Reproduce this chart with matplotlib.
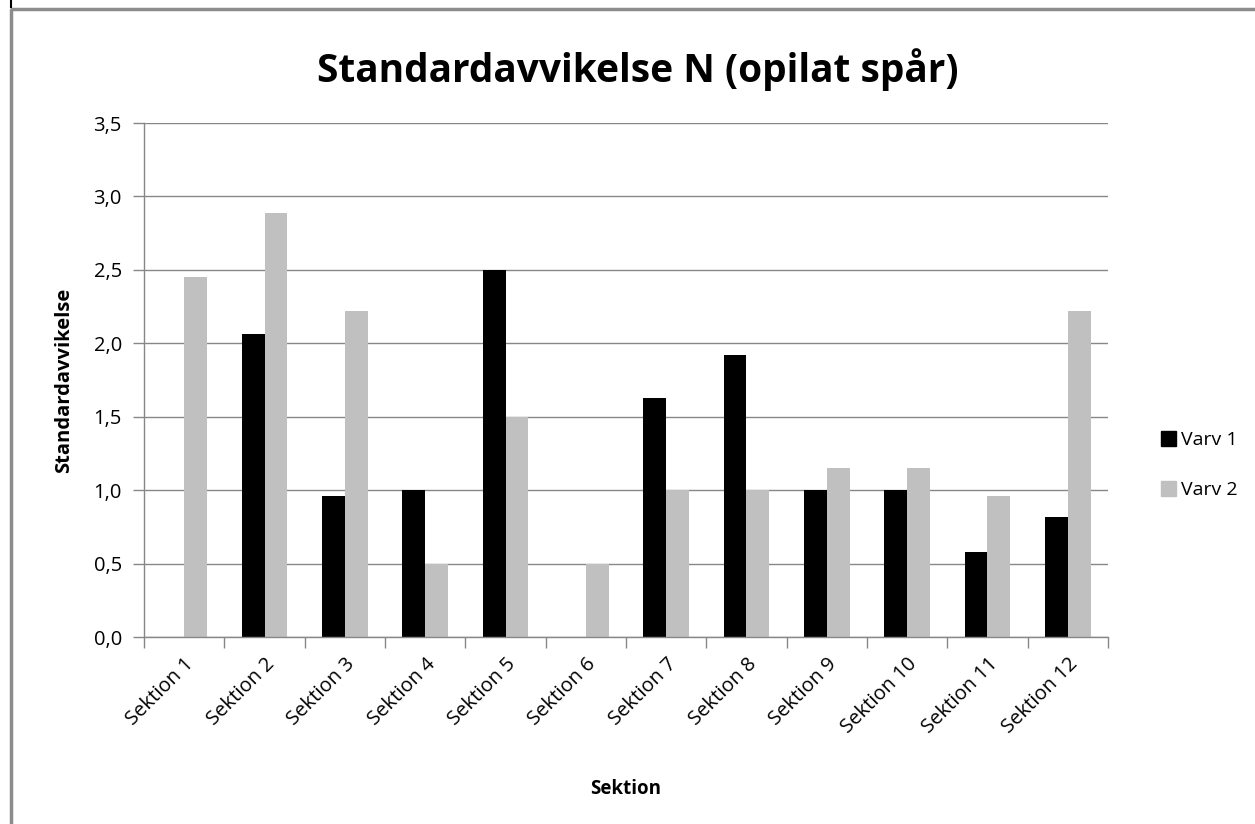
import numpy as np
import matplotlib.pyplot as plt
from matplotlib.lines import Line2D
from matplotlib.patches import Patch

sektioner = [f"Sektion {i}" for i in range(1, 13)]
varv1 = [0.0, 2.06, 0.96, 1.0, 2.5, 0.0, 1.63, 1.92, 1.0, 1.0, 0.58, 0.82]
varv2 = [2.45, 2.89, 2.22, 0.5, 1.5, 0.5, 1.0, 1.0, 1.15, 1.15, 0.96, 2.22]
yticks = [0.0, 0.5, 1.0, 1.5, 2.0, 2.5, 3.0, 3.5]

plt.rcParams["font.family"] = ["Open Sans", "DejaVu Sans"]
GRID = "#878787"

W, H = 1255, 824
fig = plt.figure(figsize=(W / 100, H / 100), dpi=100)
ax = fig.add_axes([144 / W, 1 - 637 / H, (1108 - 144) / W, (637 - 123) / H])

x = np.arange(len(sektioner))
bw = 1 / 3.5
ax.bar(x - bw / 2, varv1, bw, color="black", label="Varv 1")
ax.bar(x + bw / 2, varv2, bw, color="#c0c0c0", label="Varv 2")

ax.set_xlim(-0.5, len(sektioner) - 0.5)
ax.set_ylim(0, 3.5)
ax.set_yticks(yticks)
ax.set_yticklabels([f"{v:.1f}".replace(".", ",") for v in yticks], fontsize=14.5)
ax.yaxis.grid(True, color=GRID, lw=1)
ax.set_axisbelow(True)

ax.set_xticks(x)
ax.set_xticklabels(sektioner, rotation=45, ha="right", rotation_mode="anchor", fontsize=14.5)
ax.set_xticks(np.arange(-0.5, len(sektioner)), minor=True)
ax.tick_params(axis="x", which="major", length=0, pad=12)
ax.tick_params(axis="x", which="minor", length=8, color=GRID, width=1)
ax.tick_params(axis="y", length=8, color=GRID, width=1, pad=8)

for s in ["top", "right"]:
    ax.spines[s].set_visible(False)
for s in ["left", "bottom"]:
    ax.spines[s].set_color(GRID)
    ax.spines[s].set_linewidth(1)

ax.set_ylabel("Standardavvikelse", fontsize=14.5, fontweight="bold", labelpad=14)
ax.set_xlabel("Sektion", fontsize=13.5, fontweight="bold", labelpad=30)
fig.text(638 / W, 1 - 70 / H, "Standardavvikelse N (opilat spår)",
         ha="center", va="center", fontsize=28, fontweight="bold")

handles = [Patch(color="black"), Patch(color="#c0c0c0")]
fig.legend(handles, ["Varv 1", "Varv 2"], loc="center left",
           bbox_to_anchor=(1143 / W, 1 - 465 / H), frameon=False, fontsize=14,
           handlelength=0.8, handleheight=0.8, handletextpad=0.25, labelspacing=1.65)

# outer frame lines (left and top)
fig.add_artist(Line2D([11.5 / W, 11.5 / W], [0, 1 - 9 / H], color="#8c8c8c",
                      lw=2.5, solid_capstyle="butt"))
fig.add_artist(Line2D([10 / W, 1], [1 - 9 / H, 1 - 9 / H], color="#8c8c8c",
                      lw=2.5, solid_capstyle="butt"))
fig.add_artist(Line2D([11 / W, 11 / W], [1 - 8 / H, 1], color="black",
                      lw=1.5, solid_capstyle="butt"))

fig.savefig("out.png", dpi=100)
